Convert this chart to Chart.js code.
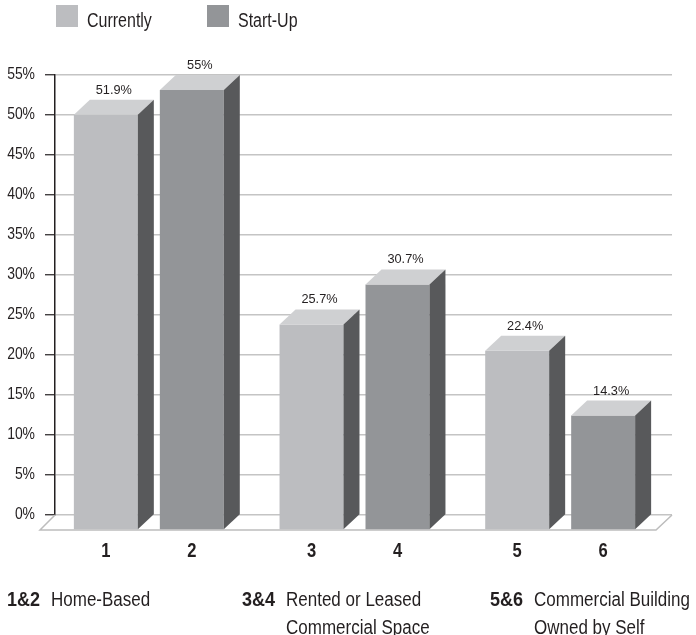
<!DOCTYPE html>
<html>
<head>
<meta charset="utf-8">
<script src="https://cdn.jsdelivr.net/npm/chart.js@4/dist/chart.umd.min.js"></script>
<style>
  html, body { margin: 0; padding: 0; background: #ffffff; }
  #wrap { width: 696px; height: 635px; position: relative; }
</style>
</head>
<body>
<div id="wrap"><canvas id="chart" width="696" height="635"></canvas></div>
<script>
// Business location: share of respondents, now vs. at start-up
const groupKeys = ['1&2', '3&4', '5&6'];
const groupNames = [
  ['Home-Based'],
  ['Rented or Leased', 'Commercial Space'],
  ['Commercial Building', 'Owned by Self']
];
const seriesNames = ['Currently', 'Start-Up'];
const currentlyValues = [51.9, 25.7, 22.4];
const startUpValues = [55, 30.7, 14.3];
const currentlyNumbers = ['1', '3', '5'];
const startUpNumbers = ['2', '4', '6'];
const yTicks = [0, 5, 10, 15, 20, 25, 30, 35, 40, 45, 50, 55];

const FONT = "'Liberation Sans', Arial, sans-serif";
const INK = '#231f20';

// 3D geometry: front face shift from scale position, and depth of the box
const FRONT_X = -9, FRONT_Y = 15;
const DEPTH_X = 16, DEPTH_Y = 15;

const TOP_COLOR = '#cfd0d2';
const SIDE_COLOR = '#58595b';

// condensed text: horizontal squeeze of a regular face
function txt(ctx, s, x, y, size, bold, align, sx) {
  ctx.save();
  ctx.font = (bold ? 'bold ' : '') + size + 'px ' + FONT;
  ctx.textAlign = align;
  ctx.textBaseline = 'alphabetic';
  ctx.fillStyle = INK;
  ctx.translate(x, y);
  ctx.scale(sx, 1);
  ctx.fillText(s, 0, 0);
  ctx.restore();
}

const boxes3d = {
  id: 'boxes3d',
  beforeDatasetsDraw(chart) {
    const { ctx, chartArea: a } = chart;
    // floor of the box
    ctx.save();
    ctx.strokeStyle = '#bdbdbd';
    ctx.lineWidth = 1.5;
    ctx.beginPath();
    ctx.moveTo(a.left, a.bottom);
    ctx.lineTo(a.left - 15, a.bottom + FRONT_Y);
    ctx.lineTo(a.right - 16, a.bottom + FRONT_Y);
    ctx.lineTo(a.right, a.bottom);
    ctx.stroke();
    ctx.restore();
    // front faces get drawn shifted toward the viewer
    ctx.save();
    ctx.translate(FRONT_X, FRONT_Y);
  },
  afterDatasetsDraw(chart) {
    const { ctx } = chart;
    ctx.restore();
    chart.data.datasets.forEach((ds, di) => {
      const meta = chart.getDatasetMeta(di);
      meta.data.forEach((bar, i) => {
        const p = bar.getProps(['x', 'y', 'base', 'width'], true);
        const l = p.x - p.width / 2 + FRONT_X;
        const r = p.x + p.width / 2 + FRONT_X;
        const t = p.y + FRONT_Y;
        const b = p.base + FRONT_Y;
        // top face
        ctx.fillStyle = TOP_COLOR;
        ctx.beginPath();
        ctx.moveTo(l, t);
        ctx.lineTo(l + DEPTH_X, t - DEPTH_Y);
        ctx.lineTo(r + DEPTH_X, t - DEPTH_Y);
        ctx.lineTo(r, t);
        ctx.closePath();
        ctx.fill();
        // side face
        ctx.fillStyle = SIDE_COLOR;
        ctx.beginPath();
        ctx.moveTo(r, t);
        ctx.lineTo(r + DEPTH_X, t - DEPTH_Y);
        ctx.lineTo(r + DEPTH_X, b - DEPTH_Y);
        ctx.lineTo(r, b);
        ctx.closePath();
        ctx.fill();
        // value label above the box
        txt(ctx, ds.data[i] + '%', (l + r) / 2 + DEPTH_X / 2, t - DEPTH_Y - 6, 12.5, false, 'center', 1.02);
        // bar number under the floor
        txt(ctx, ds.barNumbers[i], (l + r) / 2, 557, 19.5, true, 'center', 0.85);
      });
    });
  },
  afterDraw(chart) {
    const { ctx } = chart;
    // y tick labels
    const ys = chart.scales.y;
    yTicks.forEach(v => {
      txt(ctx, v + '%', 35, ys.getPixelForValue(v) + 3.5, 16, false, 'right', 0.87);
    });
    // legend
    const legendX = [56, 207];
    chart.data.datasets.forEach((ds, di) => {
      ctx.fillStyle = ds.backgroundColor;
      ctx.fillRect(legendX[di], 5, 22, 22);
      txt(ctx, ds.label, legendX[di] + 31, 27, 19.5, false, 'left', 0.82);
    });
    // group key under the chart
    const keyX = [7, 242, 490];
    groupKeys.forEach((k, gi) => {
      txt(ctx, k, keyX[gi], 606, 20, true, 'left', 0.9);
      groupNames[gi].forEach((line, li) => {
        txt(ctx, line, keyX[gi] + 44, 606 + li * 27.5, 20, false, 'left', 0.85);
      });
    });
  }
};

new Chart(document.getElementById('chart'), {
  type: 'bar',
  data: {
    labels: groupKeys,
    datasets: [
      { label: seriesNames[0], data: currentlyValues, barNumbers: currentlyNumbers,
        backgroundColor: '#bcbdc0', clip: false },
      { label: seriesNames[1], data: startUpValues, barNumbers: startUpNumbers,
        backgroundColor: '#939598', clip: false }
    ]
  },
  options: {
    responsive: false,
    animation: false,
    events: [],
    layout: { padding: { left: 0, right: 24, top: 75, bottom: 120 } },
    datasets: { bar: { categoryPercentage: 0.836, barPercentage: 0.744 } },
    plugins: { legend: { display: false }, tooltip: { enabled: false } },
    scales: {
      x: { display: false },
      y: {
        min: 0, max: 55,
        afterFit(scale) { scale.width = 55; },
        afterBuildTicks(scale) { scale.ticks = yTicks.map(v => ({ value: v })); },
        ticks: { display: false },
        grid: { color: '#c4c4c4', lineWidth: 1.5, tickLength: 10, tickColor: INK, tickWidth: 1.2 },
        border: { color: INK, width: 1.5 }
      }
    }
  },
  plugins: [boxes3d]
});
</script>
</body>
</html>
